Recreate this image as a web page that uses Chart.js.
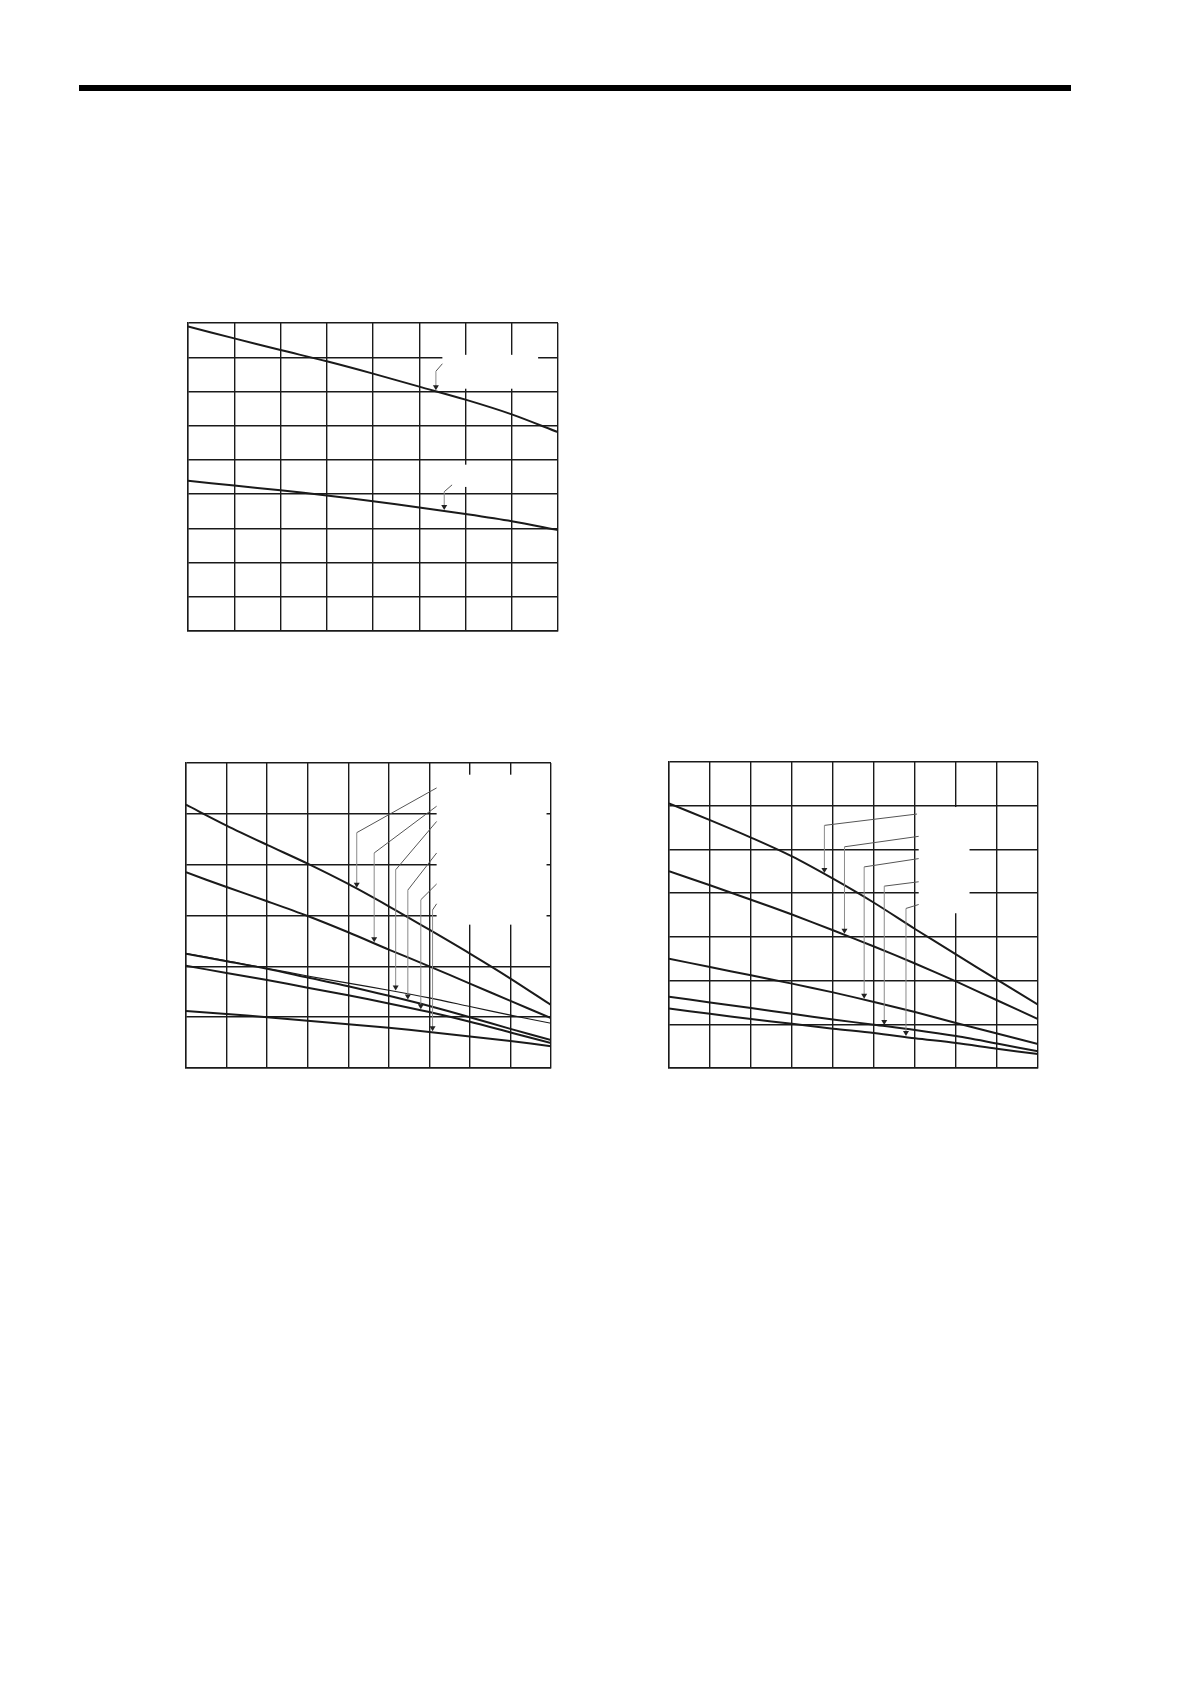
<!DOCTYPE html>
<html>
<head>
<meta charset="utf-8">
<script src="https://cdn.jsdelivr.net/npm/chart.js@4.4.1/dist/chart.umd.min.js"></script>
<style>
  html, body { margin: 0; padding: 0; background: #fff; }
  body { width: 1190px; height: 1684px; position: relative; overflow: hidden; }
  .rule { position: absolute; left: 79px; top: 85px; width: 992px; height: 6px; background: #000; }
  .box { position: absolute; }
</style>
</head>
<body>
<div class="rule"></div>
<div class="box" style="left:184px; top:319px; width:378px; height:316px"><canvas id="c1" width="378" height="316"></canvas></div>
<div class="box" style="left:182px; top:759px; width:373px; height:313px"><canvas id="c2" width="373" height="313"></canvas></div>
<div class="box" style="left:665px; top:758px; width:377px; height:314px"><canvas id="c3" width="377" height="314"></canvas></div>
<script>
// chart 1 (8 x 9 grid)
const X1 = [0, 1, 2, 3, 4, 5, 6, 7, 8];
const UPPER1 = [8.90, 8.55, 8.21, 7.88, 7.52, 7.14, 6.76, 6.33, 5.81];
const LOWER1 = [4.39, 4.25, 4.11, 3.96, 3.79, 3.61, 3.42, 3.21, 2.95];

// chart 2 (9 x 6 grid)
const X2 = [0, 1, 2, 3, 4, 5, 6, 7, 8, 9];
const A2 = [5.18, 4.77, 4.39, 4.02, 3.62, 3.18, 2.72, 2.25, 1.76, 1.24];
const B2 = [3.85, 3.56, 3.28, 2.99, 2.67, 2.33, 2.00, 1.66, 1.32, 0.98];
const C2 = [2.25, 2.11, 1.96, 1.81, 1.67, 1.53, 1.38, 1.21, 1.04, 0.88];
const D2 = [2.25, 2.10, 1.95, 1.78, 1.61, 1.42, 1.22, 1.00, 0.77, 0.55];
const E2 = [2.01, 1.87, 1.73, 1.58, 1.43, 1.27, 1.10, 0.91, 0.70, 0.49];
const F2 = [1.12, 1.06, 1.00, 0.93, 0.86, 0.79, 0.71, 0.62, 0.53, 0.43];

// chart 3 (9 x 7 grid)
const X3 = [0, 1, 2, 3, 4, 5, 6, 7, 8, 9];
const L1_3 = [6.05, 5.67, 5.27, 4.84, 4.33, 3.78, 3.18, 2.60, 2.02, 1.45];
const L2_3 = [4.50, 4.18, 3.85, 3.51, 3.15, 2.78, 2.39, 1.98, 1.55, 1.12];
const L3_3 = [2.50, 2.31, 2.12, 1.93, 1.73, 1.51, 1.28, 1.03, 0.79, 0.55];
const L4_3 = [1.63, 1.50, 1.37, 1.24, 1.11, 0.99, 0.87, 0.73, 0.56, 0.38];
const L5_3 = [1.36, 1.24, 1.12, 1.01, 0.90, 0.80, 0.68, 0.57, 0.44, 0.32];

// blanked label areas [x0, x1, yTop, yBottom]
// leaders [startX, startY, kneeX, kneeY, series]
const BLANKS1 = [[5.50, 7.57, 8.07, 7.08], [5.71, 6.74, 4.86, 4.21]];
const LEADERS1 = [[5.50, 7.81, 5.36, 7.59, UPPER1], [5.71, 4.27, 5.54, 4.07, LOWER1]];
const BLANKS2 = [[6.18, 8.89, 5.77, 2.82]];
const LEADERS2 = [
  [6.18, 5.51, 4.21, 4.63, A2], [6.18, 5.15, 4.64, 4.23, B2], [6.18, 4.85, 5.17, 3.90, C2],
  [6.18, 4.23, 5.47, 3.50, D2], [6.18, 3.62, 5.79, 3.31, E2], [6.18, 3.23, 6.08, 3.11, F2]
];
const BLANKS3 = [[6.09, 7.33, 5.97, 3.54]];
const LEADERS3 = [
  [6.05, 5.81, 3.79, 5.55, L1_3], [6.09, 5.30, 4.28, 5.06, L2_3], [6.09, 4.79, 4.76, 4.60, L3_3],
  [6.09, 4.26, 5.25, 4.16, L4_3], [6.09, 3.74, 5.78, 3.65, L5_3]
];

function valueAt(xs, ys, x) {
  for (let i = 0; i < xs.length - 1; i++) {
    if (x >= xs[i] && x <= xs[i + 1]) {
      const t = (x - xs[i]) / (xs[i + 1] - xs[i]);
      return ys[i] + t * (ys[i + 1] - ys[i]);
    }
  }
  return ys[ys.length - 1];
}

function notesPlugin(xs, blanks, leaders) {
  return {
    id: 'notes',
    beforeDatasetsDraw(chart) {
      const { ctx, scales: { x, y } } = chart;
      ctx.save();
      ctx.fillStyle = '#fff';
      blanks.forEach(b => {
        const l = x.getPixelForValue(b[0]), r = x.getPixelForValue(b[1]);
        const t = y.getPixelForValue(b[2]), btm = y.getPixelForValue(b[3]);
        ctx.fillRect(l, t, r - l, btm - t);
      });
      ctx.restore();
    },
    afterDatasetsDraw(chart) {
      const { ctx, scales: { x, y } } = chart;
      ctx.save();
      leaders.forEach(ld => {
        const sx = x.getPixelForValue(ld[0]), sy = y.getPixelForValue(ld[1]);
        const kx = x.getPixelForValue(ld[2]), ky = y.getPixelForValue(ld[3]);
        const tipY = y.getPixelForValue(valueAt(xs, ld[4], ld[2])) - 1;
        ctx.lineWidth = 1;
        ctx.strokeStyle = '#555';
        ctx.beginPath();
        ctx.moveTo(sx, sy);
        ctx.lineTo(kx, ky);
        ctx.stroke();
        ctx.strokeStyle = '#8a8a8a';
        ctx.beginPath();
        ctx.moveTo(kx, ky);
        ctx.lineTo(kx, tipY - 4);
        ctx.stroke();
        ctx.fillStyle = '#222';
        ctx.beginPath();
        ctx.moveTo(kx - 3, tipY - 5);
        ctx.lineTo(kx + 3, tipY - 5);
        ctx.lineTo(kx, tipY);
        ctx.closePath();
        ctx.fill();
      });
      ctx.restore();
    }
  };
}

function series(xs, ys, width) {
  return {
    data: xs.map((v, i) => ({ x: v, y: ys[i] })),
    borderColor: '#1a1a1a',
    borderWidth: width,
    pointRadius: 0,
    fill: false,
    tension: 0.3
  };
}

function axis(max) {
  return {
    type: 'linear', min: 0, max: max,
    ticks: { display: false, stepSize: 1 },
    grid: { color: '#1a1a1a', lineWidth: 1.4, drawTicks: false },
    border: { display: true, color: '#1a1a1a', width: 1.4 }
  };
}

function makeChart(id, xs, list, xMax, yMax, blanks, leaders) {
  return new Chart(document.getElementById(id), {
    type: 'line',
    data: { datasets: list },
    options: {
      responsive: false,
      animation: false,
      layout: { padding: 4 },
      plugins: { legend: { display: false }, tooltip: { enabled: false } },
      scales: { x: axis(xMax), y: axis(yMax) }
    },
    plugins: [notesPlugin(xs, blanks, leaders)]
  });
}

makeChart('c1', X1, [series(X1, UPPER1, 2), series(X1, LOWER1, 2)], 8, 9, BLANKS1, LEADERS1);
makeChart('c2', X2, [
  series(X2, A2, 2), series(X2, B2, 2), series(X2, C2, 1.2),
  series(X2, D2, 2), series(X2, E2, 2), series(X2, F2, 2)
], 9, 6, BLANKS2, LEADERS2);
makeChart('c3', X3, [
  series(X3, L1_3, 2), series(X3, L2_3, 2), series(X3, L3_3, 2),
  series(X3, L4_3, 2), series(X3, L5_3, 2)
], 9, 7, BLANKS3, LEADERS3);
</script>
</body>
</html>
